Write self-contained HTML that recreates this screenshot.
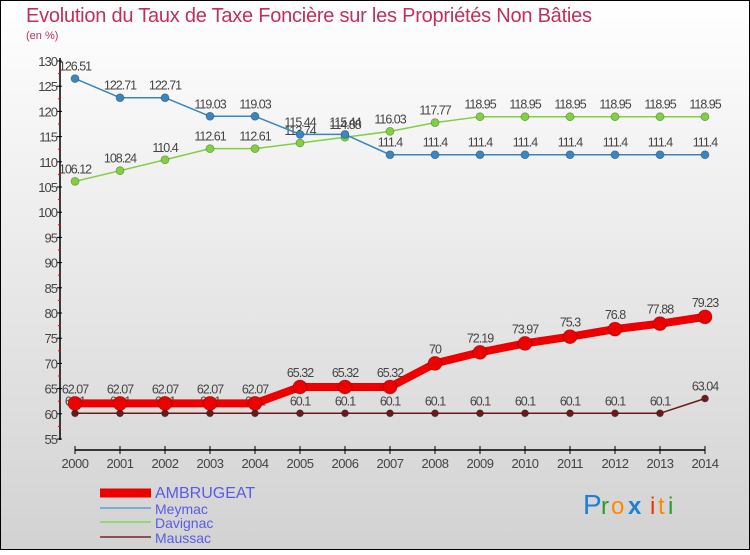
<!DOCTYPE html>
<html><head><meta charset="utf-8"><style>
body{margin:0}
#c{width:750px;height:550px;position:relative;font-family:"Liberation Sans",sans-serif;}
</style></head><body>
<div id="c">
<svg id="s" width="750" height="550" xmlns="http://www.w3.org/2000/svg">
<defs><linearGradient id="bg" x1="0" y1="0" x2="0" y2="1"><stop offset="0" stop-color="#ffffff"/><stop offset="1" stop-color="#d2d2d2"/></linearGradient></defs>
<rect x="0.5" y="0.5" width="749" height="549" fill="url(#bg)" stroke="#000"/>
<text x="26" y="22" font-size="20" fill="#c0305a" textLength="566">Evolution du Taux de Taxe Foncière sur les Propriétés Non Bâties</text>
<text x="26" y="39" font-size="11" fill="#c0305a">(en %)</text>
<g id="g"></g>
</svg>
</div>
<script>
const years=[2000,2001,2002,2003,2004,2005,2006,2007,2008,2009,2010,2011,2012,2013,2014];
const ambrugeat=[62.07,62.07,62.07,62.07,62.07,65.32,65.32,65.32,70,72.19,73.97,75.3,76.8,77.88,79.23];
const meymac=[126.51,122.71,122.71,119.03,119.03,115.44,115.44,111.4,111.4,111.4,111.4,111.4,111.4,111.4,111.4];
const davignac=[106.12,108.24,110.4,112.61,112.61,113.74,114.88,116.03,117.77,118.95,118.95,118.95,118.95,118.95,118.95];
const maussac=[60.1,60.1,60.1,60.1,60.1,60.1,60.1,60.1,60.1,60.1,60.1,60.1,60.1,60.1,63.04];
const yTicks=[55,60,65,70,75,80,85,90,95,100,105,110,115,120,125,130];
const ambLabels=["62.07","62.07","62.07","62.07","62.07","65.32","65.32","65.32","70","72.19","73.97","75.3","76.8","77.88","79.23"];
const meyLabels=["126.51","122.71","122.71","119.03","119.03","115.44","115.44","111.4","111.4","111.4","111.4","111.4","111.4","111.4","111.4"];
const davLabels=["106.12","108.24","110.4","112.61","112.61","113.74","114.88","116.03","117.77","118.95","118.95","118.95","118.95","118.95","118.95"];
const mauLabels=["60.1","60.1","60.1","60.1","60.1","60.1","60.1","60.1","60.1","60.1","60.1","60.1","60.1","60.1","63.04"];

const NS="http://www.w3.org/2000/svg";
const g=document.getElementById('g');
const X=i=>75+i*45;
const Y=v=>439-(v-55)*(378/75);
function el(t,a,p){const e=document.createElementNS(NS,t);for(const k in a)e.setAttribute(k,a[k]);(p||g).appendChild(e);return e;}

let ya=el('line',{x1:60,y1:58,x2:60,y2:440,stroke:'#000','stroke-width':1.5});


yTicks.forEach(v=>{
  let t=el('line',{x1:57,y1:Y(v),x2:62,y2:Y(v),stroke:'#000'});
  
  
  if(v<130){let m=el('line',{x1:58,y1:Y(v+2.5),x2:61,y2:Y(v+2.5),stroke:'#e00'});
  
  }
  let l=el('text',{x:57,y:Y(v)+5,'font-size':13,fill:'#444','text-anchor':'end','letter-spacing':'-1'});
  l.textContent=v;
  
  
});
let xa=el('line',{x1:X(0),y1:450,x2:X(years.length-1),y2:450,stroke:'#000','stroke-width':1.5});


years.forEach((yr,i)=>{
  let t=el('line',{x1:X(i),y1:446,x2:X(i),y2:454,stroke:'#000'});
  
  
  let l=el('text',{x:X(i),y:468,'font-size':13,fill:'#444','text-anchor':'middle','letter-spacing':'-0.5'});
  l.textContent=yr;
  
  
});

function series(vals,labels,color,lw,r,name,lblDy){
  const pts=vals.map((v,i)=>X(i)+','+Y(v)).join(' ');
  let pl=el('polyline',{points:pts,fill:'none',stroke:color,'stroke-width':lw,'stroke-linejoin':'round'});
  
  
  vals.forEach((v,i)=>{
    let c=el('circle',{cx:X(i),cy:Y(v),r:r,fill:color,stroke:'rgba(0,0,0,0.3)','stroke-width':0.8});
    
    
    let t=el('text',{x:X(i),y:Y(v)+lblDy,'font-size':12.5,fill:'#444','text-anchor':'middle','letter-spacing':'-1'});
    t.textContent=labels[i];
    
    
  });
}
series(maussac,mauLabels,'#6b1a1a',1.5,3.5,'maussac',-8);
series(davignac,davLabels,'#80d040',1.5,4,'davignac',-8);
series(meymac,meyLabels,'#3a86c0',1.5,4,'meymac',-8);
series(ambrugeat,ambLabels,'#ee0000',8,7,'ambrugeat',-10);

const leg=[['AMBRUGEAT','#ee0000',9,16],['Meymac','#7aaed0',2,14],['Davignac','#90d870',2,14],['Maussac','#905050',2,14]];
const ly=[493,509,523,538];
leg.forEach((d,i)=>{
  let l=el('line',{x1:100,y1:ly[i]-(i==0?0:1),x2:151,y2:ly[i]-(i==0?0:1),stroke:d[1],'stroke-width':d[2]});
  
  
  let t=el('text',{x:155,y:ly[i]+5,'font-size':d[3],fill:'#5a5ae8'});
  t.textContent=d[0];
  
  
});
const logo=[['P','#1f7fd6'],['r','#2a9a2a'],['o','#ff8800'],['x','#1f7fd6'],['i','#ee3300'],['t','#ff8800'],['i','#2a9a2a']];
const lx=[583,601,611,628,650,658,668];
logo.forEach((d,i)=>{
  let t=el('text',{x:lx[i],y:514,'font-size':i==0?28:24,fill:d[1],'font-weight':i==3?'bold':'normal'});
  t.textContent=d[0];
  
  
});
</script>
</body></html>
